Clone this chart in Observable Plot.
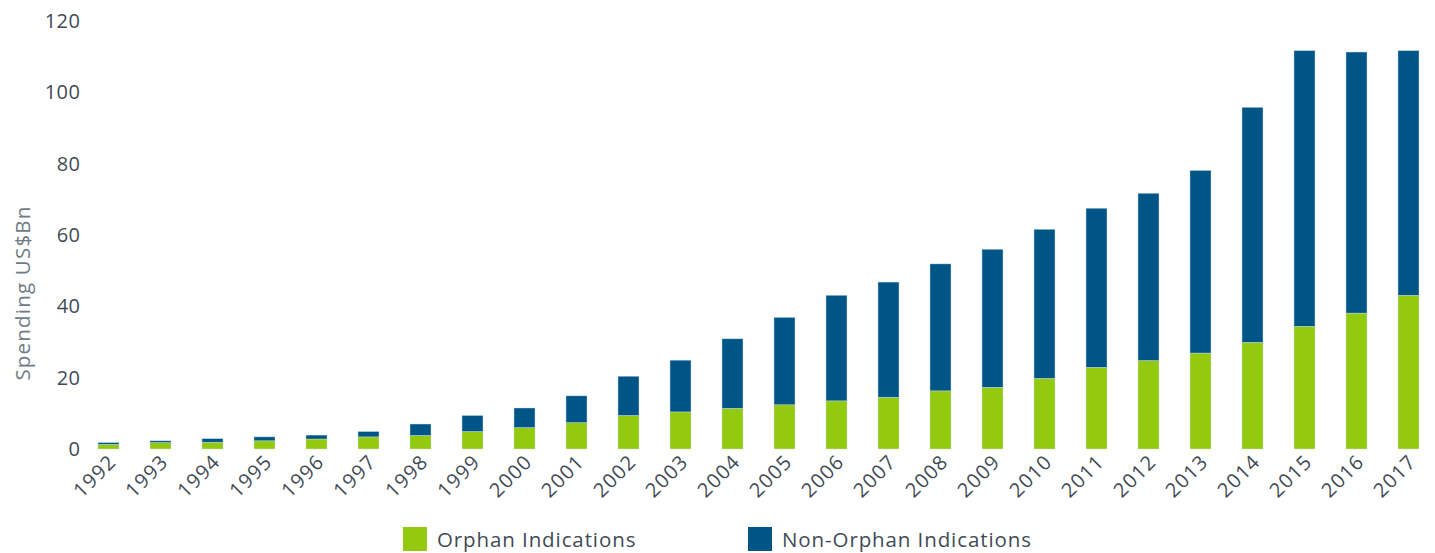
<!DOCTYPE html>
<html>
<head>
<meta charset="utf-8">
<script src="https://cdn.jsdelivr.net/npm/d3@7"></script>
<script src="https://cdn.jsdelivr.net/npm/@observablehq/plot@0.6"></script>
<style>
  html, body { margin: 0; padding: 0; background: #fff; }
  body { width: 1435px; height: 553px; overflow: hidden; font-family: "Open Sans", "Noto Sans", sans-serif; }
  #wrap { position: relative; width: 1435px; height: 553px; }
  .legend { position: absolute; top: 527px; height: 24px; display: flex; align-items: center; font-size: 20.5px; letter-spacing: 0.9px; color: #3f4b56; }
  .legend .sw { width: 24px; height: 24px; margin-right: 10px; }
  .ylab { position: absolute; left: 22px; top: 293px; transform: translate(-50%, -50%) rotate(-90deg); white-space: nowrap; font-size: 20.5px; letter-spacing: 1.2px; color: #6e7b86; }
  svg g[aria-label="x-axis tick label"] text { letter-spacing: 1.2px; }
  svg g[aria-label="y-axis tick label"] text { letter-spacing: 0.5px; }
</style>
</head>
<body>
<div id="wrap"></div>
<script>
const years = [1992,1993,1994,1995,1996,1997,1998,1999,2000,2001,2002,2003,2004,2005,2006,2007,2008,2009,2010,2011,2012,2013,2014,2015,2016,2017];
const orphan = [1.3,1.8,1.9,2.3,2.8,3.4,3.8,4.9,6.0,7.4,9.4,10.4,11.4,12.4,13.5,14.5,16.3,17.3,19.8,22.9,24.8,26.9,29.9,34.4,38.1,43.1];
const nonOrphan = [0.5,0.5,1.0,1.1,1.1,1.5,3.2,4.5,5.5,7.5,11.0,14.5,19.5,24.5,29.6,32.3,35.6,38.7,41.8,44.6,46.9,51.2,65.9,77.3,73.2,68.6];
const seriesNames = ["Orphan Indications", "Non-Orphan Indications"];
const seriesColors = ["#93c90f", "#005587"];
const yTicks = [0,20,40,60,80,100,120];
const yLabel = "Spending US$Bn";

const data = [];
years.forEach((y, i) => {
  data.push({year: String(y), series: seriesNames[0], value: orphan[i]});
  data.push({year: String(y), series: seriesNames[1], value: nonOrphan[i]});
});

const chart = Plot.plot({
  width: 1435,
  height: 505,
  marginTop: 21,
  marginBottom: 56,
  marginLeft: 92,
  marginRight: 10,
  style: {fontFamily: "'Open Sans', 'Noto Sans', sans-serif", color: "#3f4b56", background: "#fff"},
  x: {domain: years.map(String), paddingInner: 0.6, paddingOuter: 0.086, label: null},
  y: {domain: [0, 120], label: null},
  color: {domain: seriesNames, range: seriesColors},
  marks: [
    Plot.barY(data, Plot.stackY({order: seriesNames}, {x: "year", y: "value", fill: "series", stroke: "#cfe0ea", strokeWidth: 0.6, strokeOpacity: 0.7})),
    Plot.axisY({ticks: yTicks, tickSize: 0, tickPadding: 12, fontSize: 20, label: null}),
    Plot.axisX({tickSize: 0, tickRotate: -45, tickPadding: 9, dx: 4, fontSize: 20, label: null})
  ]
});

const wrap = document.getElementById("wrap");
wrap.appendChild(chart);

const yl = document.createElement("div");
yl.className = "ylab";
yl.textContent = yLabel;
wrap.appendChild(yl);

const legendLefts = [403, 748];
seriesNames.forEach((name, i) => {
  const item = document.createElement("div");
  item.className = "legend";
  item.style.left = legendLefts[i] + "px";
  const sw = document.createElement("div");
  sw.className = "sw";
  sw.style.background = seriesColors[i];
  const t = document.createElement("span");
  t.textContent = name;
  item.appendChild(sw);
  item.appendChild(t);
  wrap.appendChild(item);
});
</script>
</body>
</html>
